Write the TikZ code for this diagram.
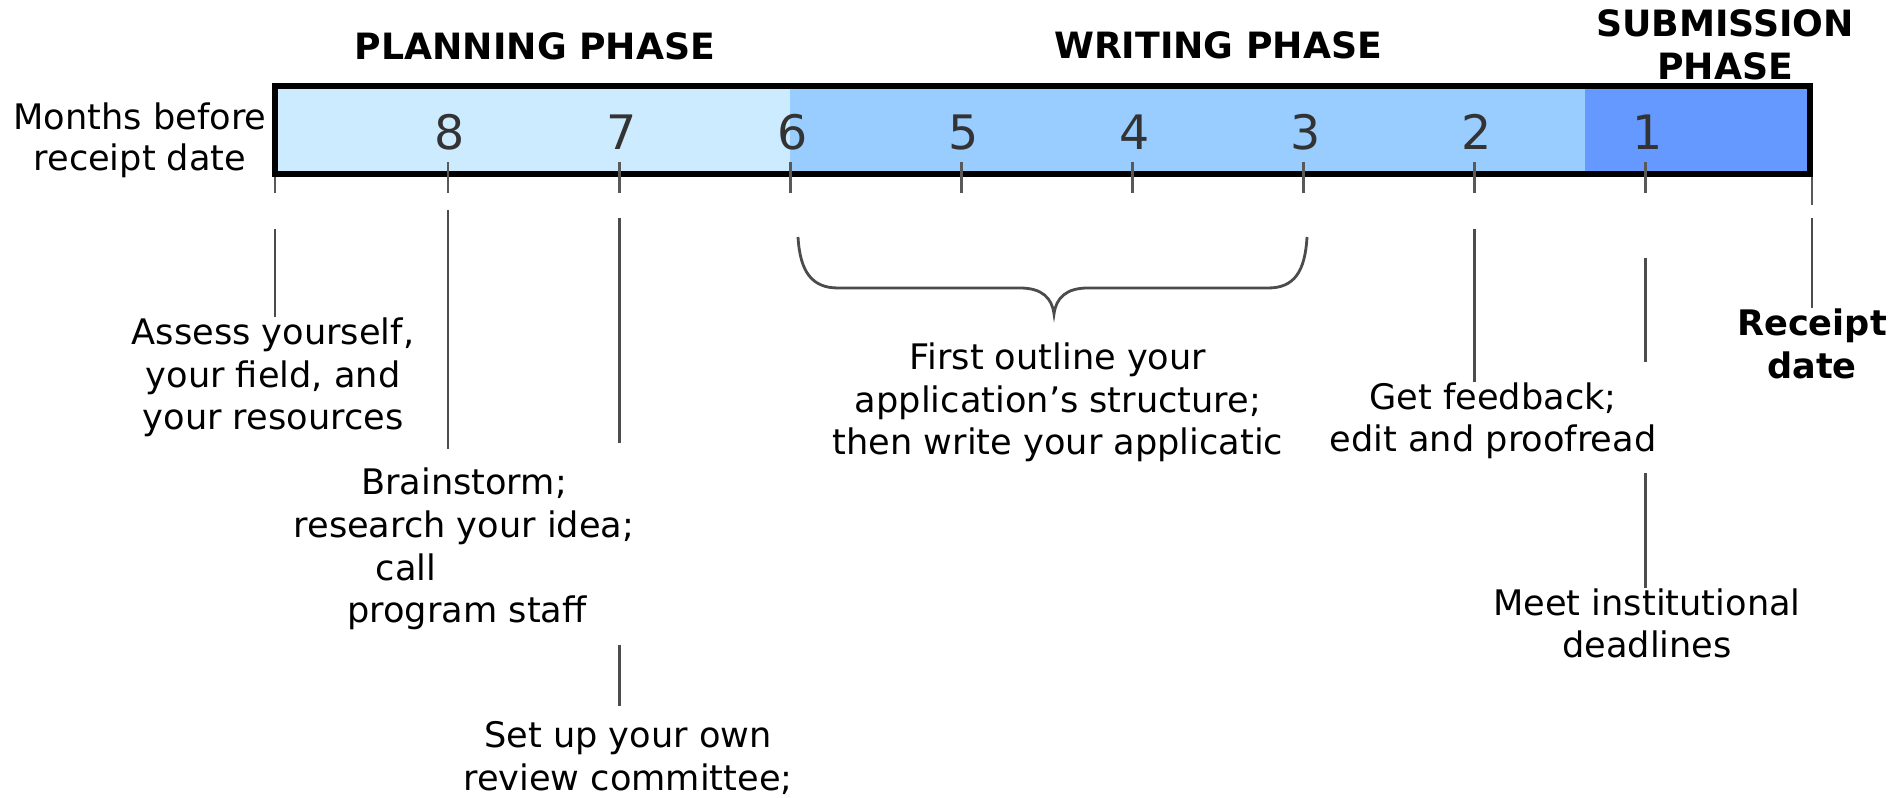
\documentclass[tikz,border=0pt]{standalone}
\usepackage{fontspec}
\setmainfont{DejaVu Sans}
\usetikzlibrary{positioning,calc}

\definecolor{planblue}{HTML}{CCEBFF}
\definecolor{writeblue}{HTML}{99CCFF}
\definecolor{submitblue}{HTML}{6699FF}

\begin{document}
\begin{tikzpicture}[x=0.01cm, y=-0.01cm,
			phase/.style={font=\fontsize{10.3}{12.5}\selectfont\bfseries, align=center, anchor=base},
			month/.style={font=\fontsize{13.5}{14}\selectfont, text=black!80, anchor=base},
			note/.style={font=\fontsize{10}{12.2}\selectfont, align=center, anchor=base, inner sep=0pt},
			line/.style={draw=black!70, line width=0.8pt},
			tickmark/.style={draw=black!65, line width=0.8pt}]
			\useasboundingbox (0,0) rectangle (1904,798);
			
			% Phase bar
			\fill[planblue] (275,86) rectangle (790,174);
			\fill[writeblue] (790,86) rectangle (1585,174);
			\fill[submitblue] (1585,86) rectangle (1810,174);
			\draw[line width=1.7pt] (275,86) rectangle (1810,174);
			
			% Phase titles (multi-line nodes sit on their last baseline)
			\node[phase] (plan) at (535,60) {PLANNING PHASE};
			\node[phase] (write) at (1218,59) {WRITING PHASE};
			\node[phase] (submit) at (1725,80) {SUBMISSION\\PHASE};
			
			% Months axis
			\node[note, font=\fontsize{10}{11.7}\selectfont] (axis) at (140,171) {Months before\\receipt date};
			\foreach \m in {1,...,8} {
				\coordinate (t\m) at ({448+(8-\m)*171.1},193);
				\node[month] (m\m) at ({450+(8-\m)*171.1},150) {\m};
				\draw[tickmark] (t\m) -- ++(0,-31);
			}
			\coordinate (t9) at (275,193);
			\coordinate (t0) at (1812,205);
			\draw[tickmark] (t9) -- ++(0,-16);
			\draw[tickmark] (t0) -- ++(0,-28);
			
			% Planning phase tasks
			\node[note] (assess) at (273,430) {Assess yourself,\\your field, and\\your resources};
			\draw[line] ($(t9)+(0,36)$) -- (t9 |- assess.north);
			\node[note] (brain) at (464,623) {Brainstorm;\\research your idea;\\call\kern1.16cm\\\kern0.06cm program staff};
			\draw[line, shorten >=5pt] ($(t8)+(0,17)$) -- (t8 |- brain.north);
			\node[note] (setup) at (628,790) {Set up your own\\review committee;};
			\draw[line] ($(t7)+(0,25)$) -- ($(t7)+(0,250)$);
			\draw[line, shorten >=4pt] ($(t7)+(0,452)$) -- (t7 |- setup.north);
			
			% Writing phase tasks
			\coordinate (bl) at (798,237);
			\coordinate (br) at (1307,237);
			\coordinate (bt) at (1054,314);
			\draw[line] (bl) .. controls (800,272) and (812,288) .. (838,288) -- (1020,288)
				.. controls (1042,288) and (1052,298) .. (bt)
				.. controls (1056,298) and (1066,288) .. (1088,288) -- (1268,288)
				.. controls (1294,288) and (1305,272) .. (br);
			\node[note] (outline) at (1058,455) {First outline your\\application’s structure;\\then write your applicatic};
			\node[note] (feedback) at (1493,452) {Get feedback;\\edit and proofread};
			\draw[line] ($(t2)+(0,36)$) -- (t2 |- feedback.north);
			
			% Submission phase tasks
			\node[note] (meet) at (1647,658) {Meet institutional\\deadlines};
			\draw[line] ($(t1)+(0,65)$) -- ($(t1)+(0,169)$);
			\draw[line] ($(t1)+(0,280)$) -- (t1 |- meet.north);
			\node[note, font=\fontsize{10}{12.5}\selectfont\bfseries] (receipt) at (1812,379) {Receipt\\date};
			\draw[line] ($(t0)+(0,13)$) -- (t0 |- receipt.north);
		\end{tikzpicture}
\end{document}
